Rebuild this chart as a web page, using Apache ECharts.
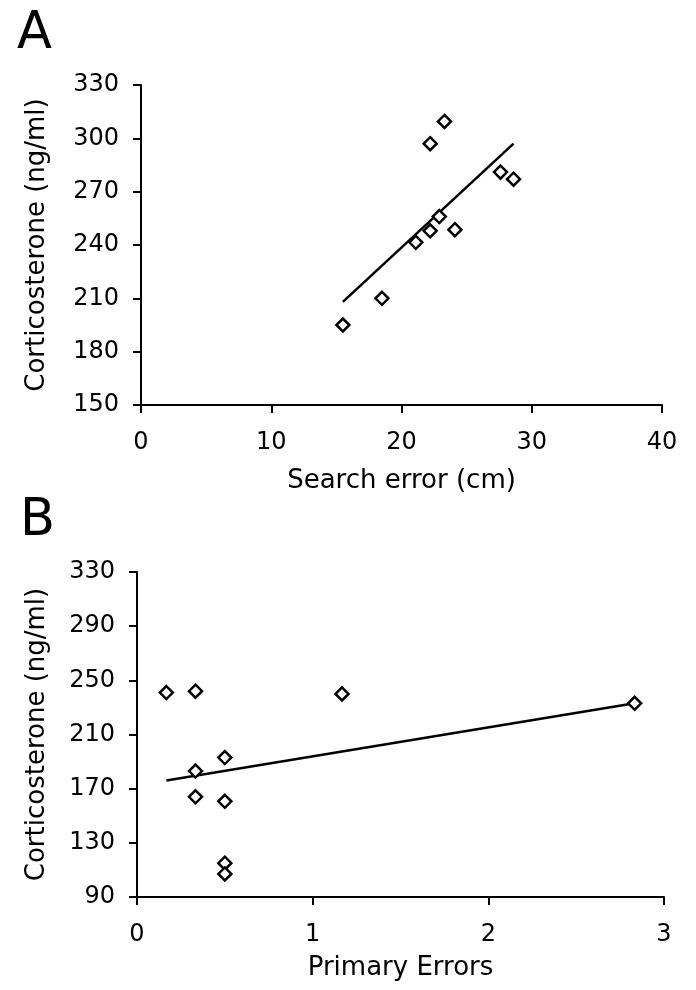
<!DOCTYPE html>
<html>
<head>
<meta charset="utf-8">
<script src="https://cdn.jsdelivr.net/npm/echarts@6/dist/echarts.min.js"></script>
<style>
html,body{margin:0;padding:0;background:#fff;}
#chart{width:696px;height:990px;}
</style>
</head>
<body>
<div id="chart"></div>
<script>
// Panel A: Search error vs corticosterone
const searchError = [15.5, 18.5, 21.1, 22.2, 22.9, 24.1, 22.2, 23.3, 27.6, 28.6];
const corticoA    = [195, 210, 241.5, 248, 256, 248.6, 297, 309.5, 281, 277];
const trendAX = [15.5, 28.6];
const trendAY = [208, 297];
const xTicksA = [0, 10, 20, 30, 40];
const yTicksA = [150, 180, 210, 240, 270, 300, 330];

// Panel B: Primary errors vs corticosterone
const primaryErrors = [0.167, 0.333, 1.167, 2.833, 0.5, 0.333, 0.333, 0.5, 0.5, 0.5];
const corticoB      = [241, 242, 240, 233, 193, 183, 164, 160.7, 115, 107];
const trendBX = [0.167, 2.833];
const trendBY = [176, 233];
const xTicksB = [0, 1, 2, 3];
const yTicksB = [90, 130, 170, 210, 250, 290, 330];

const FONT = 'DejaVu Sans';
const chart = echarts.init(document.getElementById('chart'), null, {renderer: 'canvas'});

function axisCommon() {
  return {
    axisLine: {show: true, onZero: false, lineStyle: {color: '#000', width: 2}},
    axisTick: {show: true, inside: false, length: 8, lineStyle: {color: '#000', width: 2}},
    splitLine: {show: false},
    nameTextStyle: {color: '#000', fontFamily: FONT, fontSize: 26},
  };
}

function xAxis(gridIndex, ticks, name, gap) {
  return Object.assign(axisCommon(), {
    type: 'value', gridIndex,
    min: ticks[0], max: ticks[ticks.length - 1], interval: ticks[1] - ticks[0],
    name, nameLocation: 'middle', nameGap: gap,
    axisLabel: {color: '#000', fontFamily: FONT, fontSize: 24, margin: 26},
  });
}

function yAxis(gridIndex, ticks, name, gap) {
  return Object.assign(axisCommon(), {
    type: 'value', gridIndex,
    min: ticks[0], max: ticks[ticks.length - 1], interval: ticks[1] - ticks[0],
    name, nameLocation: 'middle', nameGap: gap, nameRotate: 90,
    axisLabel: {color: '#000', fontFamily: FONT, fontSize: 24, margin: 22},
  });
}

function pairs(xs, ys) { return xs.map((x, i) => [x, ys[i]]); }

const scatterStyle = {
  type: 'scatter', symbol: 'diamond', symbolSize: 13,
  itemStyle: {color: '#fff', borderColor: '#000', borderWidth: 2.5, opacity: 1},
  z: 3
};
const lineStyleCommon = {
  type: 'line', showSymbol: false, symbol: 'none',
  lineStyle: {color: '#000', width: 2.5}, z: 2, animation: false
};

chart.setOption({
  animation: false,
  backgroundColor: '#fff',
  grid: [
    {left: 141, width: 521, top: 85, height: 320},
    {left: 137, width: 527, top: 572, height: 325}
  ],
  xAxis: [
    xAxis(0, xTicksA, 'Search error (cm)', 63),
    xAxis(1, xTicksB, 'Primary Errors', 58)
  ],
  yAxis: [
    yAxis(0, yTicksA, 'Corticosterone (ng/ml)', 91),
    yAxis(1, yTicksB, 'Corticosterone (ng/ml)', 87)
  ],
  graphic: [
    {type: 'text', left: 17, top: 9, style: {text: 'A', fontFamily: FONT, fontSize: 51, fill: '#000'}},
    {type: 'text', left: 20, top: 496, style: {text: 'B', fontFamily: FONT, fontSize: 51, fill: '#000'}}
  ],
  series: [
    Object.assign({}, lineStyleCommon, {xAxisIndex: 0, yAxisIndex: 0, data: pairs(trendAX, trendAY)}),
    Object.assign({}, scatterStyle, {xAxisIndex: 0, yAxisIndex: 0, data: pairs(searchError, corticoA)}),
    Object.assign({}, lineStyleCommon, {xAxisIndex: 1, yAxisIndex: 1, data: pairs(trendBX, trendBY)}),
    Object.assign({}, scatterStyle, {xAxisIndex: 1, yAxisIndex: 1, data: pairs(primaryErrors, corticoB)})
  ]
});
</script>
</body>
</html>
